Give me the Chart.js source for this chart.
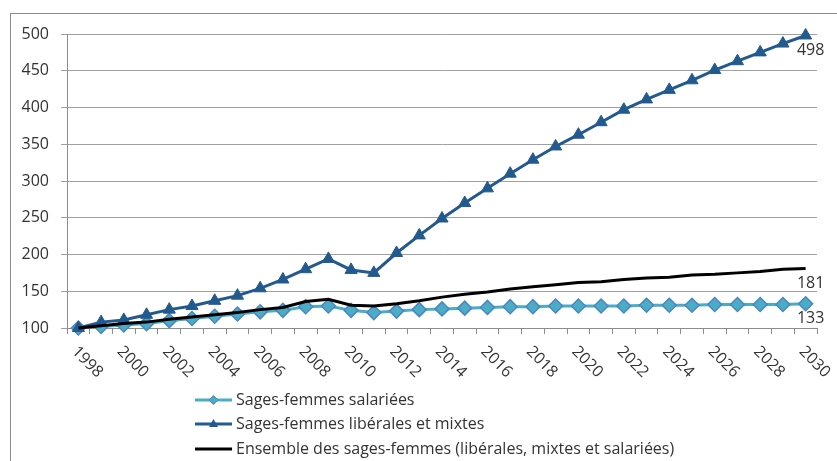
<!DOCTYPE html>
<html>
<head>
<meta charset="utf-8">
<script src="https://cdn.jsdelivr.net/npm/chart.js@4/dist/chart.umd.min.js"></script>
<style>
html, body { margin: 0; padding: 0; background: #fff; }
#wrap { position: relative; width: 837px; height: 461px; }
</style>
</head>
<body>
<div id="wrap"><canvas id="chart"></canvas></div>
<script>
var years = ['1998', '1999', '2000', '2001', '2002', '2003', '2004', '2005', '2006', '2007', '2008',
	'2009', '2010', '2011', '2012', '2013', '2014', '2015', '2016', '2017', '2018', '2019', '2020',
	'2021', '2022', '2023', '2024', '2025', '2026', '2027', '2028', '2029', '2030'];

var salariees = [100, 102, 104, 106, 110, 113, 116, 119, 122, 124, 129,
	130, 124, 121, 123, 125, 126, 127, 128, 129, 129, 130, 130,
	130, 130, 131, 131, 131, 132, 132, 132, 132, 133];

var liberales = [100, 108, 111, 118, 125, 130, 137, 144, 154, 166, 180,
	194, 179, 175, 202, 226, 249, 270, 290, 310, 329, 347, 363,
	380, 397, 411, 424, 437, 451, 463, 475, 487, 498];

var ensemble = [100, 103, 106, 108, 112, 115, 118, 121, 125, 128, 136,
	139, 131, 130, 133, 137, 142, 146, 149, 153, 156, 159, 162,
	163, 166, 168, 169, 172, 173, 175, 177, 180, 181];

var seriesNames = [
	'Sages-femmes salariées',
	'Sages-femmes libérales et mixtes',
	'Ensemble des sages-femmes (libérales, mixtes et salariées)'
];

var yMin = 100, yMax = 500, yStep = 50;

var FAMILY = '"Open Sans"';
var FONT = '16px ' + FAMILY;
var TEXT = '#333333';
var cSal = '#4BACC6', cSalEdge = '#4A86C0';
var cLib = '#235A8E';
var cEns = '#000000';

// extra drawing: frame, rotated year labels, end values, legend
var decor = {
	id: 'decor',
	afterDraw: function(chart) {
		var ctx = chart.ctx;
		var xs = chart.scales.x;

		ctx.save();
		ctx.strokeStyle = '#8c8c8c';
		ctx.lineWidth = 1;
		ctx.strokeRect(10.5, 13.5, 900, 600);

		ctx.font = FONT;
		ctx.fillStyle = TEXT;
		ctx.textAlign = 'left';
		ctx.textBaseline = 'middle';
		for (var i = 0; i < years.length; i += 2) {
			var x = xs.getPixelForValue(i);
			ctx.save();
			ctx.translate(x - 4, chart.chartArea.bottom + 21);
			ctx.rotate(Math.PI / 4);
			ctx.fillText(years[i], 0, 0);
			ctx.restore();
		}

		// last value under each series
		ctx.textAlign = 'center';
		ctx.textBaseline = 'top';
		chart.data.datasets.forEach(function(ds, d) {
			var pts = chart.getDatasetMeta(d).data;
			var p = pts[pts.length - 1];
			ctx.fillText(String(ds.data[ds.data.length - 1]), p.x + 5, p.y + 7);
		});

		// legend
		var rows = [400, 424, 449];
		var x0 = 195, x1 = 232;
		for (var r = 0; r < 3; r++) {
			var ds = chart.data.datasets[r];
			var y = rows[r];
			ctx.strokeStyle = ds.borderColor;
			ctx.lineWidth = 3;
			ctx.beginPath();
			ctx.moveTo(x0, y);
			ctx.lineTo(x1, y);
			ctx.stroke();
			var mx = (x0 + x1) / 2;
			if (r === 0) {
				ctx.fillStyle = cSal;
				ctx.strokeStyle = cSalEdge;
				ctx.lineWidth = 1;
				ctx.beginPath();
				ctx.moveTo(mx, y - 4.5);
				ctx.lineTo(mx + 4.5, y);
				ctx.lineTo(mx, y + 4.5);
				ctx.lineTo(mx - 4.5, y);
				ctx.closePath();
				ctx.fill();
				ctx.stroke();
			} else if (r === 1) {
				ctx.fillStyle = cLib;
				ctx.beginPath();
				ctx.moveTo(mx, y - 5);
				ctx.lineTo(mx + 4.5, y + 3);
				ctx.lineTo(mx - 4.5, y + 3);
				ctx.closePath();
				ctx.fill();
			}
			ctx.fillStyle = TEXT;
			ctx.textAlign = 'left';
			ctx.textBaseline = 'middle';
			ctx.fillText(seriesNames[r], 236, y);
		}
		ctx.restore();
	}
};

new Chart(document.getElementById('chart'), {
	type: 'line',
	data: {
		labels: years,
		datasets: [
			{
				label: seriesNames[0],
				data: salariees,
				borderColor: cSal,
				backgroundColor: cSal,
				borderWidth: 3,
				pointStyle: 'rectRot',
				pointRadius: 7,
				pointBackgroundColor: cSal,
				pointBorderColor: cSalEdge,
				pointBorderWidth: 1.5,
				tension: 0,
				clip: false,
				order: 3
			},
			{
				label: seriesNames[1],
				data: liberales,
				borderColor: cLib,
				backgroundColor: cLib,
				borderWidth: 3,
				pointStyle: 'triangle',
				pointRadius: 7,
				pointBackgroundColor: cLib,
				pointBorderColor: cLib,
				pointBorderWidth: 1,
				tension: 0,
				clip: false,
				order: 2
			},
			{
				label: seriesNames[2],
				data: ensemble,
				borderColor: cEns,
				backgroundColor: cEns,
				borderWidth: 3,
				pointRadius: 0,
				tension: 0,
				clip: false,
				order: 1
			}
		]
	},
	options: {
		responsive: true,
		maintainAspectRatio: false,
		animation: false,
		layout: { padding: { top: 34, right: 20, left: 0, bottom: 0 } },
		plugins: {
			legend: { display: false },
			tooltip: { enabled: false }
		},
		scales: {
			x: {
				offset: true,
				grid: {
					offset: true,
					drawOnChartArea: false,
					tickLength: 6,
					color: '#8c8c8c'
				},
				border: { color: '#8c8c8c' },
				ticks: { display: false },
				afterFit: function(s) { s.height = 133; }
			},
			y: {
				min: yMin,
				max: yMax,
				ticks: {
					stepSize: yStep,
					padding: 12,
					color: TEXT,
					font: { family: FAMILY, size: 16 }
				},
				grid: { color: '#a0a0a0', tickLength: 6 },
				border: { color: '#8c8c8c' },
				afterFit: function(s) { s.width = 67; }
			}
		}
	},
	plugins: [decor]
});
</script>
</body>
</html>
